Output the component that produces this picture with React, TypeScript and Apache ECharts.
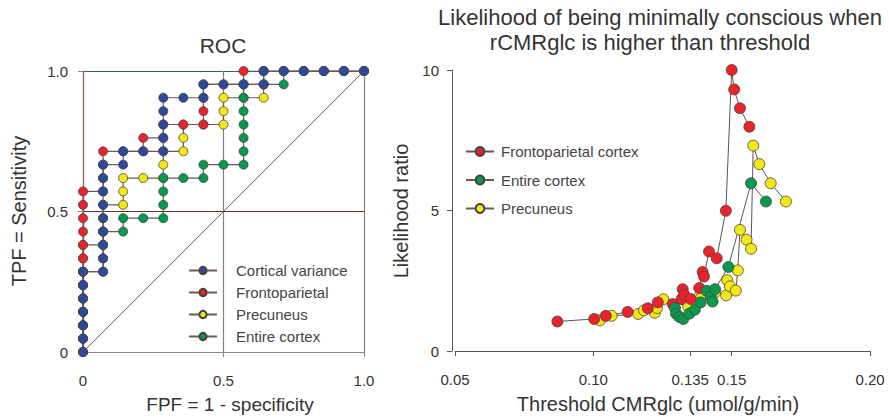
import React, { useEffect, useRef } from "react";
import * as echarts from "echarts";

// ---------- ROC data (counts of false positives out of 14, true positives out of 21) ----------
const N_NEG = 14;
const N_POS = 21;

const cortVarFP = [0,0,0,0,0,0,0,1,1,1,1,1,1,1,1,1,2,2,3,4,4,4,4,4,5,6,6,7,8,9,9,10,11,12,13,14];
const cortVarTP = [0,1,2,3,4,5,6,6,7,8,9,10,11,12,13,14,14,15,15,15,16,17,18,19,19,19,20,20,20,20,21,21,21,21,21,21];

const frontoFP = [0,0,0,0,0,0,0,0,0,0,0,0,0,1,1,1,1,2,3,3,4,4,5,6,6,6,6,7,8,8,9,10,11,12,13,14];
const frontoTP = [0,1,2,3,4,5,6,7,8,9,10,11,12,12,13,14,15,15,15,16,16,17,17,17,18,19,20,20,20,21,21,21,21,21,21,21];

const precunFP = [0,0,0,0,0,0,0,0,0,1,1,1,1,2,2,2,3,4,4,4,5,5,5,6,7,7,7,8,9,9,9,10,11,12,13,14];
const precunTP = [0,1,2,3,4,5,6,7,8,8,9,10,11,11,12,13,13,13,14,15,15,16,17,17,17,18,19,19,19,20,21,21,21,21,21,21];

const entireFP = [0,0,0,0,0,0,0,1,1,1,1,2,2,3,4,4,4,4,5,6,6,7,8,8,8,8,8,8,8,9,10,10,11,12,13,14];
const entireTP = [0,1,2,3,4,5,6,6,7,8,9,9,10,10,10,11,12,13,13,13,14,14,14,15,16,17,18,19,20,20,20,21,21,21,21,21];

// ---------- Likelihood ratio data ----------
const lrFrontoX = [0.0870,0.1003,0.1045,0.1124,0.1197,0.1233,0.1287,0.1319,0.1323,0.1329,0.1352,0.1383,0.1395,0.1400,0.1418,0.1446,0.1479,0.1500,0.1509,0.1530,0.1564];
const lrFrontoY = [1.05,1.14,1.25,1.39,1.52,1.73,1.67,1.85,2.20,2.00,1.85,2.24,2.81,2.65,3.54,3.30,4.99,10.0,9.31,8.64,7.98];

const lrEntireX = [0.1295,0.1299,0.1311,0.1325,0.1347,0.1367,0.1388,0.1410,0.1424,0.1431,0.1440,0.1488,0.1570,0.1624];
const lrEntireY = [1.53,1.33,1.21,1.14,1.33,1.47,1.73,2.14,1.94,1.76,2.20,2.99,5.97,5.32];

const lrPrecunX = [0.1024,0.1066,0.1162,0.1183,0.1222,0.1230,0.1253,0.1343,0.1390,0.1440,0.1480,0.1484,0.1494,0.1515,0.1522,0.1530,0.1554,0.1570,0.1578,0.1600,0.1641,0.1696];
const lrPrecunY = [1.09,1.25,1.32,1.45,1.36,1.53,1.84,1.59,1.90,2.08,1.98,2.52,2.30,2.15,2.87,4.31,3.96,3.64,7.31,6.65,5.97,5.32];

const lrXTicks = [0.05, 0.1, 0.135, 0.15, 0.2];

const BLUE = "#2b4a9c";
const RED = "#e8232b";
const YELLOW = "#f3e812";
const GREEN = "#079a4e";
const FONT = "'Liberation Sans', Arial, Helvetica, sans-serif";
const TXT = "#333";

function rocPairs(fp: number[], tp: number[]) {
  return fp.map((f, i) => [f / N_NEG, tp[i] / N_POS]);
}
function pairs(x: number[], y: number[]) {
  return x.map((v, i) => [v, y[i]]);
}

export default function App() {
  const ref = useRef<HTMLDivElement>(null);
  useEffect(() => {
    if (!ref.current) return;
    const chart = echarts.init(ref.current, undefined, { renderer: "svg" });

    const rocSeries = (name: string, color: string, fp: number[], tp: number[]) => ({
      type: "line",
      name,
      xAxisIndex: 0,
      yAxisIndex: 0,
      data: rocPairs(fp, tp),
      symbol: "circle",
      symbolSize: 9,
      showAllSymbol: true,
      lineStyle: { color: "#6a5a52", width: 1.2 },
      itemStyle: { color, borderColor: "#4a4040", borderWidth: 0.8 },
      emphasis: { disabled: true },
    });
    const lrSeries = (name: string, color: string, x: number[], y: number[]) => ({
      type: "line",
      name,
      xAxisIndex: 1,
      yAxisIndex: 1,
      data: pairs(x, y),
      symbol: "circle",
      symbolSize: 11,
      showAllSymbol: true,
      lineStyle: { color: "#5a5552", width: 1 },
      itemStyle: { color, borderColor: "#4a4040", borderWidth: 0.8 },
      emphasis: { disabled: true },
    });

    const axisLabelStyle = { fontSize: 15, color: TXT, fontFamily: FONT };
    const t = (text: string, x: number, y: number, fontSize: number, rot = 0) => ({
      type: "text",
      x,
      y,
      rotation: rot,
      style: { text, fontSize, fill: TXT, fontFamily: FONT, align: "center", verticalAlign: "middle" },
    });

    chart.setOption({
      animation: false,
      textStyle: { fontFamily: FONT },
      grid: [
        { left: 83, top: 71, width: 281, height: 281 },
        { left: 455, top: 70, width: 415, height: 281 },
      ],
      xAxis: [
        {
          type: "value",
          gridIndex: 0,
          min: 0,
          max: 1,
          interval: 0.5,
          axisLine: { lineStyle: { color: "#8a847e", width: 1.2 } },
          axisTick: { length: 5, lineStyle: { color: "#8a847e" } },
          axisLabel: {
            ...axisLabelStyle,
            margin: 21,
            formatter: (v: number) => (v === 0 ? "0" : v.toFixed(1)),
          },
          splitLine: {
            show: true,
            lineStyle: { color: ["#8a6a5a", "#8a7e76", "#8a7e76"], width: 1.2 },
          },
        },
        {
          type: "value",
          gridIndex: 1,
          min: 0.05,
          max: 0.2,
          axisLine: { lineStyle: { color: "#555", width: 1 } },
          axisTick: { length: 5, customValues: lrXTicks, lineStyle: { color: "#555" } },
          axisLabel: {
            ...axisLabelStyle,
            margin: 21,
            customValues: lrXTicks,
            formatter: (v: number) => (Math.abs(v - 0.135) < 1e-9 ? "0.135" : v.toFixed(2)),
          },
          splitLine: { show: false },
        },
      ],
      yAxis: [
        {
          type: "value",
          gridIndex: 0,
          min: 0,
          max: 1,
          interval: 0.5,
          axisLine: { show: true, lineStyle: { color: "#8a6a5a", width: 1.2 } },
          axisTick: { show: true, length: 5, lineStyle: { color: "#8a847e" } },
          axisLabel: {
            ...axisLabelStyle,
            margin: 15,
            formatter: (v: number) => (v === 0 ? "0" : v.toFixed(1)),
          },
          splitLine: {
            show: true,
            lineStyle: { color: ["#8a847e", "#6e2c1e", "#2f6464"], width: 1.2 },
          },
        },
        {
          type: "value",
          gridIndex: 1,
          min: 0,
          max: 10,
          interval: 5,
          offset: 3,
          axisLine: { show: true, lineStyle: { color: "#555", width: 1 } },
          axisTick: { show: true, length: 5, lineStyle: { color: "#555" } },
          axisLabel: { ...axisLabelStyle, margin: 13 },
          splitLine: { show: false },
        },
      ],
      legend: [
        {
          orient: "vertical",
          left: 183,
          top: 258,
          itemWidth: 28,
          itemHeight: 9,
          itemGap: 7,
          selectedMode: false,
          textStyle: { fontSize: 15, color: "#444", fontFamily: FONT, padding: [0, 0, 0, 14] },
          data: ["Cortical variance", "Frontoparietal", "Precuneus", "Entire cortex"],
        },
        {
          orient: "vertical",
          left: 460,
          top: 139,
          itemWidth: 28,
          itemHeight: 11,
          itemGap: 13.5,
          selectedMode: false,
          textStyle: { fontSize: 15, color: "#444", fontFamily: FONT, padding: [0, 0, 0, 2] },
          data: ["Frontoparietal cortex", "Entire cortex", "Precuneus"],
        },
      ],
      graphic: [
        t("ROC", 223, 45, 21),
        t("Likelihood of being minimally conscious when", 660, 17, 22),
        t("rCMRglc is higher than threshold", 650, 42, 22),
        t("TPF = Sensitivity", 19, 211, 20, Math.PI / 2),
        t("FPF = 1 - specificity", 230, 404, 19),
        t("Likelihood ratio", 401, 211, 20, Math.PI / 2),
        t("Threshold CMRglc (umol/g/min)", 658, 404, 20),
      ],
      series: [
        {
          type: "line",
          name: "diag",
          xAxisIndex: 0,
          yAxisIndex: 0,
          data: [[0, 0], [1, 1]],
          symbol: "none",
          lineStyle: { color: "#555", width: 0.9 },
          silent: true,
          z: 1,
        },
        rocSeries("Precuneus", YELLOW, precunFP, precunTP),
        rocSeries("Frontoparietal", RED, frontoFP, frontoTP),
        rocSeries("Entire cortex", GREEN, entireFP, entireTP),
        rocSeries("Cortical variance", BLUE, cortVarFP, cortVarTP),
        lrSeries("Precuneus", YELLOW, lrPrecunX, lrPrecunY),
        lrSeries("Frontoparietal cortex", RED, lrFrontoX, lrFrontoY),
        lrSeries("Entire cortex", GREEN, lrEntireX, lrEntireY),
      ],
    });
    return () => chart.dispose();
  }, []);

  return (
    <div
      ref={ref}
      style={{ position: "fixed", left: 0, top: 0, width: 889, height: 418, background: "#fff" }}
    />
  );
}
